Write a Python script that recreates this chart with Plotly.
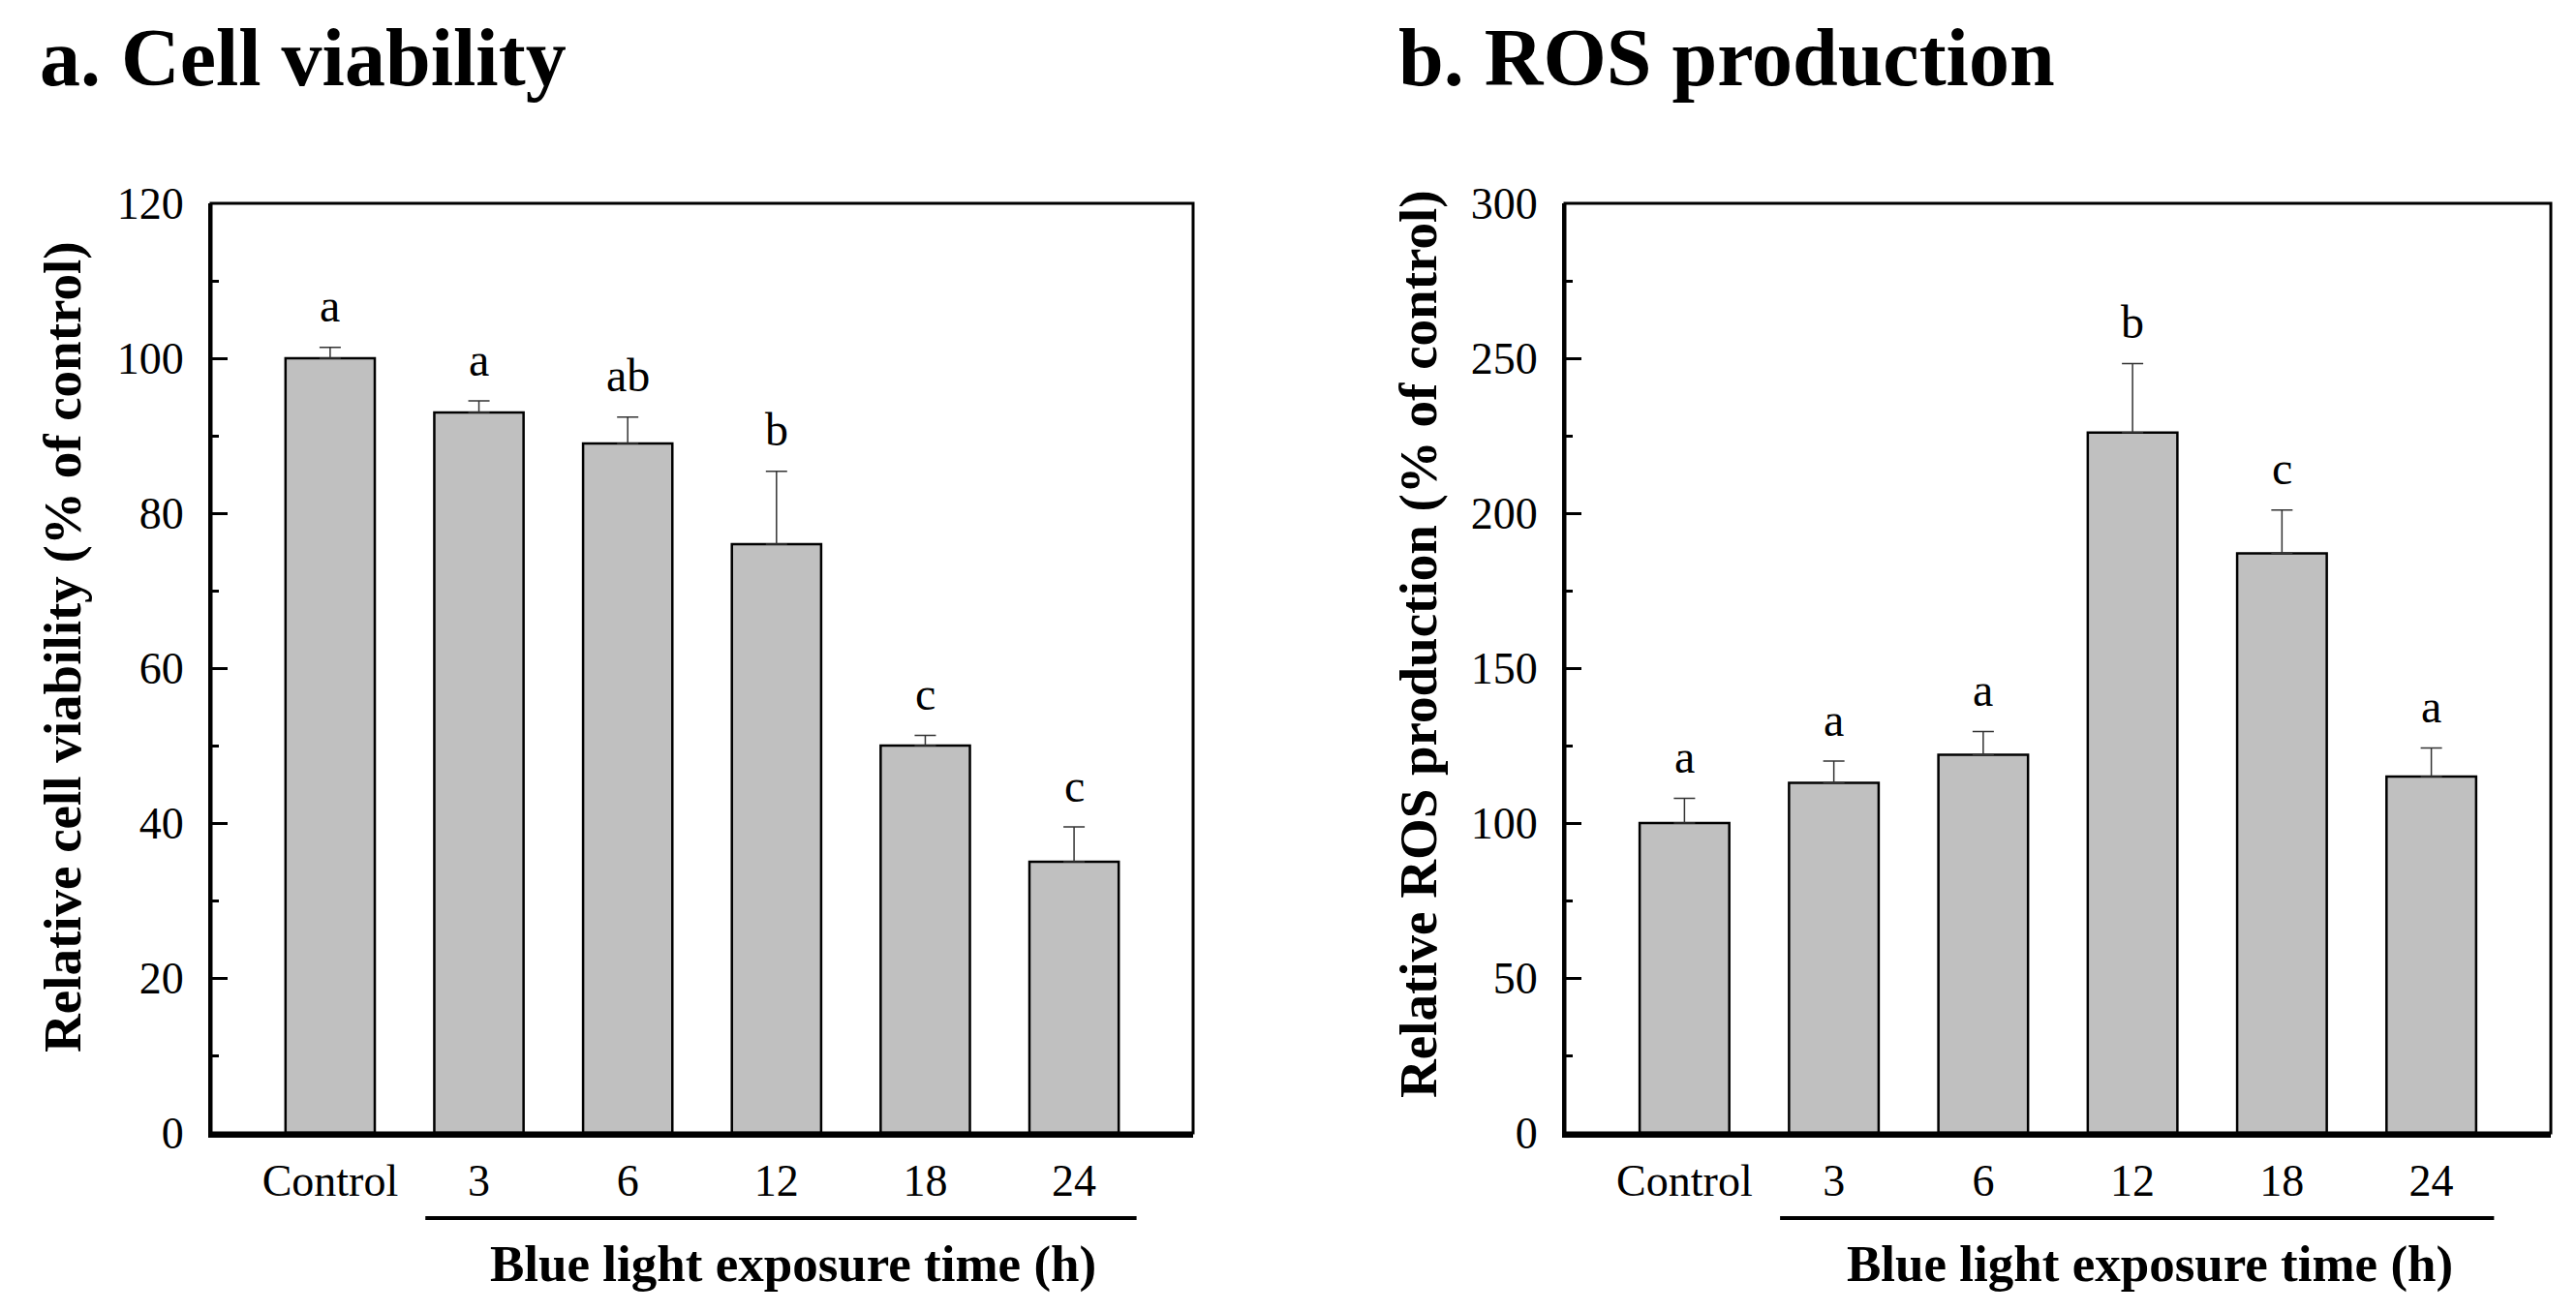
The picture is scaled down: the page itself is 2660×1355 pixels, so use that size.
import plotly.graph_objects as go

categories = ["Control", "3", "6", "12", "18", "24"]

viability = [100, 93, 89, 76, 50, 35]
viability_err = [1.4, 1.5, 3.4, 9.4, 1.3, 4.5]
viability_letters = ["a", "a", "ab", "b", "c", "c"]

ros = [100, 113, 122, 226, 187, 115]
ros_err = [8, 7, 7.5, 22.3, 14, 9.2]
ros_letters = ["a", "a", "a", "b", "c", "a"]

W, H = 2660, 1355
FONT = "Liberation Serif, Times New Roman, serif"
xpos = list(range(len(categories)))

fig = go.Figure()

def add_panel(values, errs, xa, ya):
    fig.add_trace(go.Bar(
        x=xpos, y=values, width=0.6,
        marker=dict(color="#c0c0c0", line=dict(color="black", width=2.5)),
        error_y=dict(type="data", symmetric=False, array=errs,
                     arrayminus=[0] * len(errs), color="#333333",
                     thickness=1.5, width=11),
        xaxis=xa, yaxis=ya, showlegend=False, hoverinfo="skip"))

add_panel(viability, viability_err, "x", "y")
add_panel(ros, ros_err, "x2", "y2")

ytop, ybot = 1 - 210 / H, 1 - 1170 / H
dom1 = [218 / W, 1232 / W]
dom2 = [1616 / W, 2634 / W]

xcommon = dict(range=[-0.8, 5.8], tickvals=xpos, ticktext=categories,
               showline=True, linecolor="black", linewidth=5, ticks="",
               showgrid=False, zeroline=False, ticklabelstandoff=5,
               automargin=False,
               tickfont=dict(family=FONT, size=46, color="black"))

def ycommon(rng, dt, mdt):
    return dict(range=rng, dtick=dt, tick0=0, showline=True, linecolor="black",
                linewidth=3, ticks="inside", ticklen=17, tickwidth=3,
                tickcolor="black", showgrid=False, zeroline=False,
                ticklabelstandoff=16, automargin=False,
                minor=dict(ticks="inside", ticklen=8, tickwidth=3,
                           tickcolor="black", dtick=mdt, showgrid=False),
                tickfont=dict(family=FONT, size=46, color="black"),
                domain=[ybot, ytop])

fig.update_layout(
    width=W, height=H, margin=dict(l=0, r=0, t=0, b=0, pad=0, autoexpand=False),
    paper_bgcolor="white", plot_bgcolor="white",
    xaxis=dict(domain=dom1, anchor="y", **xcommon),
    yaxis=dict(anchor="x", **ycommon([0, 120], 20, 10)),
    xaxis2=dict(domain=dom2, anchor="y2", **xcommon),
    yaxis2=dict(anchor="x2", **ycommon([0, 300], 50, 25)),
    bargap=0.4,
)

shapes = []
annotations = []
for xr, yr in (("x", "y"), ("x2", "y2")):
    # frame
    shapes.append(dict(type="rect", xref=f"{xr} domain", yref=f"{yr} domain",
                       x0=0, x1=1, y0=0, y1=1, line=dict(color="black", width=3),
                       layer="above"))
    # underline below exposure-time labels
    shapes.append(dict(type="line", xref=xr, yref=f"{yr} domain",
                       x0=0.64, x1=5.42, y0=-0.0917, y1=-0.0917,
                       line=dict(color="black", width=4)))
    annotations.append(dict(text="<b>Blue light exposure time (h)</b>", xref=xr,
                            yref="paper", x=3.115, y=1 - 1305 / H,
                            showarrow=False, xanchor="center", yanchor="middle",
                            font=dict(family=FONT, size=53, color="black")))

for xr, yr, vals, errs, lets in (("x", "y", viability, viability_err, viability_letters),
                                 ("x2", "y2", ros, ros_err, ros_letters)):
    for i, (v, e, l) in enumerate(zip(vals, errs, lets)):
        annotations.append(dict(text=l, xref=xr, yref=yr, x=i, y=v + e,
                                yshift=43, showarrow=False, xanchor="center",
                                yanchor="middle",
                                font=dict(family=FONT, size=48, color="black")))

annotations += [
    dict(text="<b>Relative cell viability (% of control)</b>", xref="paper",
         yref="paper", x=64 / W, y=1 - 668 / H, textangle=-90, showarrow=False,
         xanchor="center", yanchor="middle",
         font=dict(family=FONT, size=55, color="black")),
    dict(text="<b>Relative ROS production (% of control)</b>", xref="paper",
         yref="paper", x=1464 / W, y=1 - 665 / H, textangle=-90, showarrow=False,
         xanchor="center", yanchor="middle",
         font=dict(family=FONT, size=55, color="black")),
    dict(text="<b>a. Cell viability</b>", xref="paper", yref="paper",
         x=39 / W, y=1 - 60 / H, showarrow=False, xanchor="left",
         yanchor="middle", font=dict(family=FONT, size=84, color="black")),
    dict(text="<b>b. ROS production</b>", xref="paper", yref="paper",
         x=1442 / W, y=1 - 60 / H, showarrow=False, xanchor="left",
         yanchor="middle", font=dict(family=FONT, size=84, color="black")),
]

fig.update_layout(shapes=shapes, annotations=annotations)
fig.write_html("out.html")
